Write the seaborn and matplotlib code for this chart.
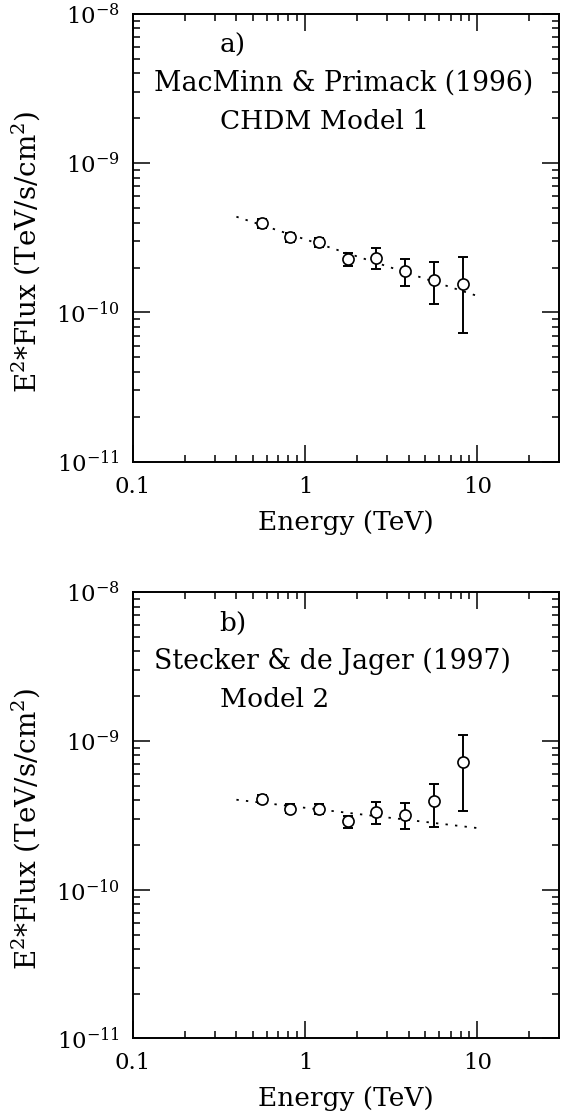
import numpy as np
import pandas as pd
import seaborn as sns
import matplotlib
matplotlib.use("Agg")
import matplotlib.pyplot as plt
from matplotlib.ticker import FixedLocator, NullFormatter

# energies of the bins (TeV)
energy = [0.56, 0.82, 1.21, 1.77, 2.6, 3.8, 5.6, 8.25]

# panel a) MacMinn & Primack
flux_a = [3.95e-10, 3.19e-10, 2.96e-10, 2.28e-10, 2.33e-10, 1.89e-10, 1.65e-10, 1.55e-10]
flux_a_hi = [4.23e-10, 3.39e-10, 3.17e-10, 2.49e-10, 2.70e-10, 2.27e-10, 2.18e-10, 2.36e-10]
flux_a_lo = [3.66e-10, 2.95e-10, 2.76e-10, 2.05e-10, 1.95e-10, 1.50e-10, 1.14e-10, 7.3e-11]

# panel b) Stecker & de Jager
flux_b = [4.07e-10, 3.51e-10, 3.49e-10, 2.88e-10, 3.33e-10, 3.18e-10, 3.93e-10, 7.19e-10]
flux_b_hi = [4.33e-10, 3.75e-10, 3.75e-10, 3.13e-10, 3.87e-10, 3.81e-10, 5.14e-10, 1.10e-9]
flux_b_lo = [3.81e-10, 3.27e-10, 3.24e-10, 2.60e-10, 2.78e-10, 2.55e-10, 2.65e-10, 3.38e-10]

# power law fits (end points)
fit_e = [0.4, 10]
fit_a = [4.38e-10, 1.29e-10]
fit_b = [4.03e-10, 2.60e-10]

xticks = [0.1, 1, 10]
xticklabels = ["0.1", "1", "10"]
yticks = [1e-11, 1e-10, 1e-9, 1e-8]
yticklabels = ["10$^{-11}$", "10$^{-10}$", "10$^{-9}$", "10$^{-8}$"]

panels = [
    ("a)", ["MacMinn & Primack (1996)", "CHDM Model 1"], flux_a, flux_a_lo, flux_a_hi, fit_a),
    ("b)", ["Stecker & de Jager (1997)", "Model 2"], flux_b, flux_b_lo, flux_b_hi, fit_b),
]

sns.set_style("ticks")
plt.rcParams["font.family"] = ["DejaVu Serif"]
plt.rcParams["mathtext.fontset"] = "dejavuserif"
plt.rcParams["text.color"] = "black"
plt.rcParams["axes.labelcolor"] = "black"
plt.rcParams["xtick.color"] = "black"
plt.rcParams["ytick.color"] = "black"

fig = plt.figure(figsize=(5.61, 11.14), dpi=100)
boxes = [[0.2365, 0.5856, 0.7608, 0.4018], [0.2365, 0.0678, 0.7608, 0.4005]]
big = 19

for (tag, lines, f, lo, hi, fit), box in zip(panels, boxes):
    ax = fig.add_axes(box)
    df = pd.DataFrame({"E": energy, "F": f})
    dfit = pd.DataFrame({"E": fit_e, "F": fit})

    sns.lineplot(data=dfit, x="E", y="F", ax=ax, color="black", lw=1.3,
                 linestyle=(0, (1.3, 4)))
    yerr = [np.array(f) - np.array(lo), np.array(hi) - np.array(f)]
    ax.errorbar(energy, f, yerr=yerr, fmt="none", ecolor="black",
                elinewidth=1.4, capsize=3.6, capthick=1.4)
    sns.scatterplot(data=df, x="E", y="F", ax=ax, marker="o", s=64,
                    facecolor="white", edgecolor="black", linewidth=1.2, zorder=3)

    ax.set_xscale("log")
    ax.set_yscale("log")
    ax.set_xlim(0.1, 30)
    ax.set_ylim(1e-11, 1e-8)

    ax.xaxis.set_major_locator(FixedLocator(xticks))
    ax.set_xticklabels(xticklabels)
    ax.xaxis.set_minor_locator(FixedLocator(
        [m * d for d in [0.1, 1, 10] for m in range(2, 10) if m * d < 30]))
    ax.xaxis.set_minor_formatter(NullFormatter())
    ax.yaxis.set_major_locator(FixedLocator(yticks))
    ax.set_yticklabels(yticklabels)
    ax.yaxis.set_minor_locator(FixedLocator(
        [m * d for d in [1e-11, 1e-10, 1e-9] for m in range(2, 10)]))
    ax.yaxis.set_minor_formatter(NullFormatter())

    ax.tick_params(which="both", direction="in", top=True, right=True,
                   width=1.1, labelsize=16.5, color="black")
    ax.tick_params(which="major", length=12)
    ax.tick_params(axis="x", which="major", pad=10)
    ax.tick_params(axis="y", which="major", pad=9)
    ax.tick_params(which="minor", length=5.3)
    for s in ax.spines.values():
        s.set_linewidth(1.4)
        s.set_color("black")

    ax.set_xlabel("Energy (TeV)", fontsize=big)
    ax.xaxis.label.set_va("center")
    ax.xaxis.set_label_coords(0.5, -0.135)
    ax.set_ylabel("E$^2$*Flux (TeV/s/cm$^2$)", fontsize=20)
    ax.yaxis.label.set_va("center")
    ax.yaxis.set_label_coords(-0.25, 0.47)

    ax.text(0.204, 0.930, tag, transform=ax.transAxes, fontsize=big, va="center")
    ax.text(0.05, 0.845, lines[0], transform=ax.transAxes, fontsize=19.3, va="center")
    ax.text(0.204, 0.760, lines[1], transform=ax.transAxes, fontsize=big, va="center")

fig.savefig("out.png", dpi=100)
